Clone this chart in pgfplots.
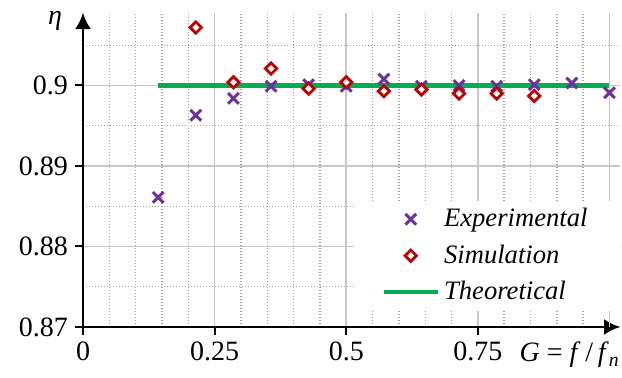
\documentclass[border=0pt]{standalone}
\usepackage{fontspec}
\setmainfont{Liberation Serif}
\usepackage{pgfplots}
\pgfplotsset{compat=1.18}
\usetikzlibrary{arrows.meta}
\definecolor{cpurple}{RGB}{112,48,160}
\definecolor{cred}{RGB}{192,0,0}
\definecolor{cgreen}{RGB}{0,176,80}
\definecolor{gmaj}{RGB}{200,200,200}
\definecolor{gmin}{RGB}{165,165,165}
\begin{document}
\begin{tikzpicture}
\begin{axis}[
  scale only axis, width=268.5pt, height=157pt,
  xmin=0, xmax=1.02, ymin=0.87, ymax=0.909,
  axis lines=left,
  axis line style={line width=1.2pt, -{Latex[length=8pt,width=8pt]}},
  xtick={0,0.25,0.5,0.75}, xticklabels={0,0.25,0.5,0.75},
  extra x ticks={1}, extra x tick labels={},
  extra x tick style={major tick length=0pt, grid=major},
  ytick={0.87,0.88,0.89,0.9}, yticklabels={0.87,0.88,0.89,0.9},
  minor xtick={0.05,0.1,0.15,0.2,0.3,0.35,0.4,0.45,0.55,0.6,0.65,0.7,0.8,0.85,0.9,0.95},
  minor ytick={0.875,0.885,0.895,0.905},
  grid=both,
  major grid style={gmaj, line width=0.8pt},
  minor grid style={gmin, dash pattern=on 0.7pt off 0.8pt, line width=0.7pt},
  tick align=outside, major tick length=4pt, minor tick length=0pt,
  tick style={black, line width=1pt},
  ticklabel style={font=\fontsize{14}{16}\selectfont},
  xlabel={\textit{G} = \textit{f}\,/\,\textit{f}\textsubscript{\textit{n}}},
  xlabel style={at={(axis description cs:1.0,0)}, anchor=north east, inner xsep=0pt, yshift=-4pt, font=\fontsize{14}{16}\selectfont},
  ylabel={\textit{η}},
  ylabel style={at={(axis description cs:-0.078,0.962)}, anchor=base west, rotate=-90, font=\fontsize{14}{16}\selectfont},
  legend style={at={(axis description cs:0.503,0.404)}, anchor=north west, draw=none, fill=white,
    font=\itshape\fontsize{13.3}{15}\selectfont, inner xsep=14pt, inner ysep=2pt, row sep=3.5pt,
    /tikz/every even column/.append style={column sep=2pt}},
  legend cell align=left,
  legend image code/.code={\draw[mark repeat=2,mark phase=2,#1] plot coordinates {(0pt,0pt) (13.5pt,0pt) (27pt,0pt)};},
  clip=false,
]
\addplot[cgreen, line width=2.3pt, forget plot] coordinates {(0.142857,0.9) (1.0,0.9)};
\addplot[only marks, mark=x, mark size=3.8pt, cpurple, line width=1.5pt] coordinates {
(0.142857,0.8861) (0.214286,0.8963) (0.285714,0.8984) (0.357143,0.8999)
(0.428571,0.9001) (0.5,0.8999) (0.571429,0.9008) (0.642857,0.8999)
(0.714286,0.9000) (0.785714,0.8999) (0.857143,0.9001) (0.928571,0.9003)
(1.0,0.8991)};
\addlegendentry{Experimental}
\addplot[only marks, mark=square*, mark size=2pt, cred, line width=1.4pt, mark options={rotate=45, fill=white}] coordinates {
(0.214286,0.9072) (0.285714,0.9004) (0.357143,0.9021) (0.428571,0.8996)
(0.5,0.9004) (0.571429,0.8993) (0.642857,0.8995) (0.714286,0.8990)
(0.785714,0.8990) (0.857143,0.8987)};
\addlegendentry{Simulation}
\addlegendimage{cgreen, line width=2.3pt}
\addlegendentry{Theoretical}
\path (axis description cs:-0.1546,-0.1624) (axis description cs:1.0037,1.0414);
\end{axis}
\end{tikzpicture}
\end{document}
